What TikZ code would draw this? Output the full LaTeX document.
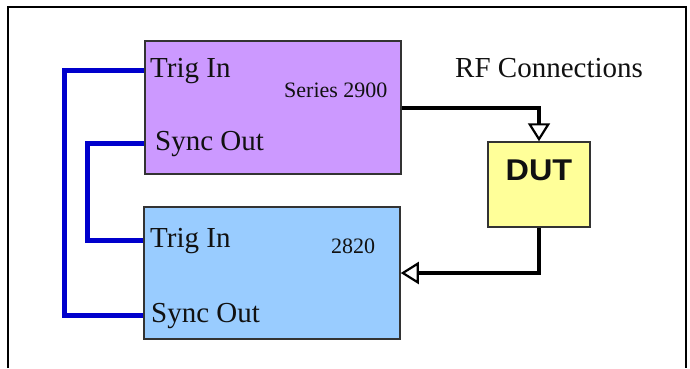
\documentclass[tikz,border=0pt]{standalone}
\usepackage{fontspec}
\setmainfont{Liberation Serif}
\newfontfamily\dutfont[FakeStretch=1.08]{Liberation Sans}
\usetikzlibrary{arrows.meta}

\definecolor{boxpurple}{HTML}{CC99FF}
\definecolor{boxblue}{HTML}{99CCFF}
\definecolor{boxyellow}{HTML}{FFFF99}
\definecolor{wireblue}{HTML}{0000CC}
\definecolor{inktext}{HTML}{111111}

\tikzset{
  unit/.style={draw=black!80, line width=1.5pt, inner sep=0pt},
  portlabel/.style={anchor=base west, inner sep=0pt, text=inktext, font=\fontsize{29}{29}\selectfont},
  modellabel/.style={anchor=base west, inner sep=0pt, text=inktext, font=\fontsize{22}{22}\selectfont},
  syncwire/.style={wireblue, line width=4.5pt},
  rfwire/.style={black, line width=4pt, -{Triangle[open, line width=2.2pt, width=22pt, length=18pt]}},
}

\begin{document}
\begin{tikzpicture}[x=1pt, y=-1pt]

            \useasboundingbox (0,0) rectangle (690,368);

            % Frame (bottom edge is cut off)
            \draw[line width=2.5pt] (8,368) -- (8,7) -- (686,7) -- (686,368);

            % Series 2900 unit
            \node[unit, fill=boxpurple, minimum width=256pt, minimum height=133pt] (series) at (273,107.5) {};
            \node[portlabel] (trigA) at (150,77) {Trig In}; % Trig In of 2900
            \node[portlabel] (syncA) at (155,150) {Sync Out}; % Sync Out of 2900
            \node[modellabel] (nameA) at (284,97) {Series 2900};

            % 2820 unit
            \node[unit, fill=boxblue, minimum width=256pt, minimum height=132pt] (unitB) at (272,273) {};
            \node[portlabel] (trigB) at (150,247) {Trig In}; % Trig In of 2820
            \node[portlabel] (syncB) at (151,322) {Sync Out}; % Sync Out of 2820
            \node[modellabel] (nameB) at (331,253) {2820};

            % DUT
            \node[unit, fill=boxyellow, minimum width=102pt, minimum height=85pt] (dut) at (539,184.5) {};
            \node[inktext, font=\dutfont\bfseries\fontsize{30}{30}\selectfont] (dutname) at (539,170) {DUT};

            % RF title
            \node[portlabel] (rftitle) at (455,77) {RF Connections};

            % Trigger wires
            \draw[syncwire] (series.west |- trigA) -- ++(-80,0) |- (unitB.west |- syncB); % 2900 Trig In from 2820 Sync Out
            \draw[syncwire] (series.west |- syncA) -- ++(-57,0) |- (unitB.west |- trigB); % 2900 Sync Out to 2820 Trig In

            % RF path
            \draw[rfwire] (series.east) -| (dut.north); % 2900 out to DUT
            \draw[rfwire] (dut.south) |- (unitB.east); % DUT out to 2820

\end{tikzpicture}
\end{document}
